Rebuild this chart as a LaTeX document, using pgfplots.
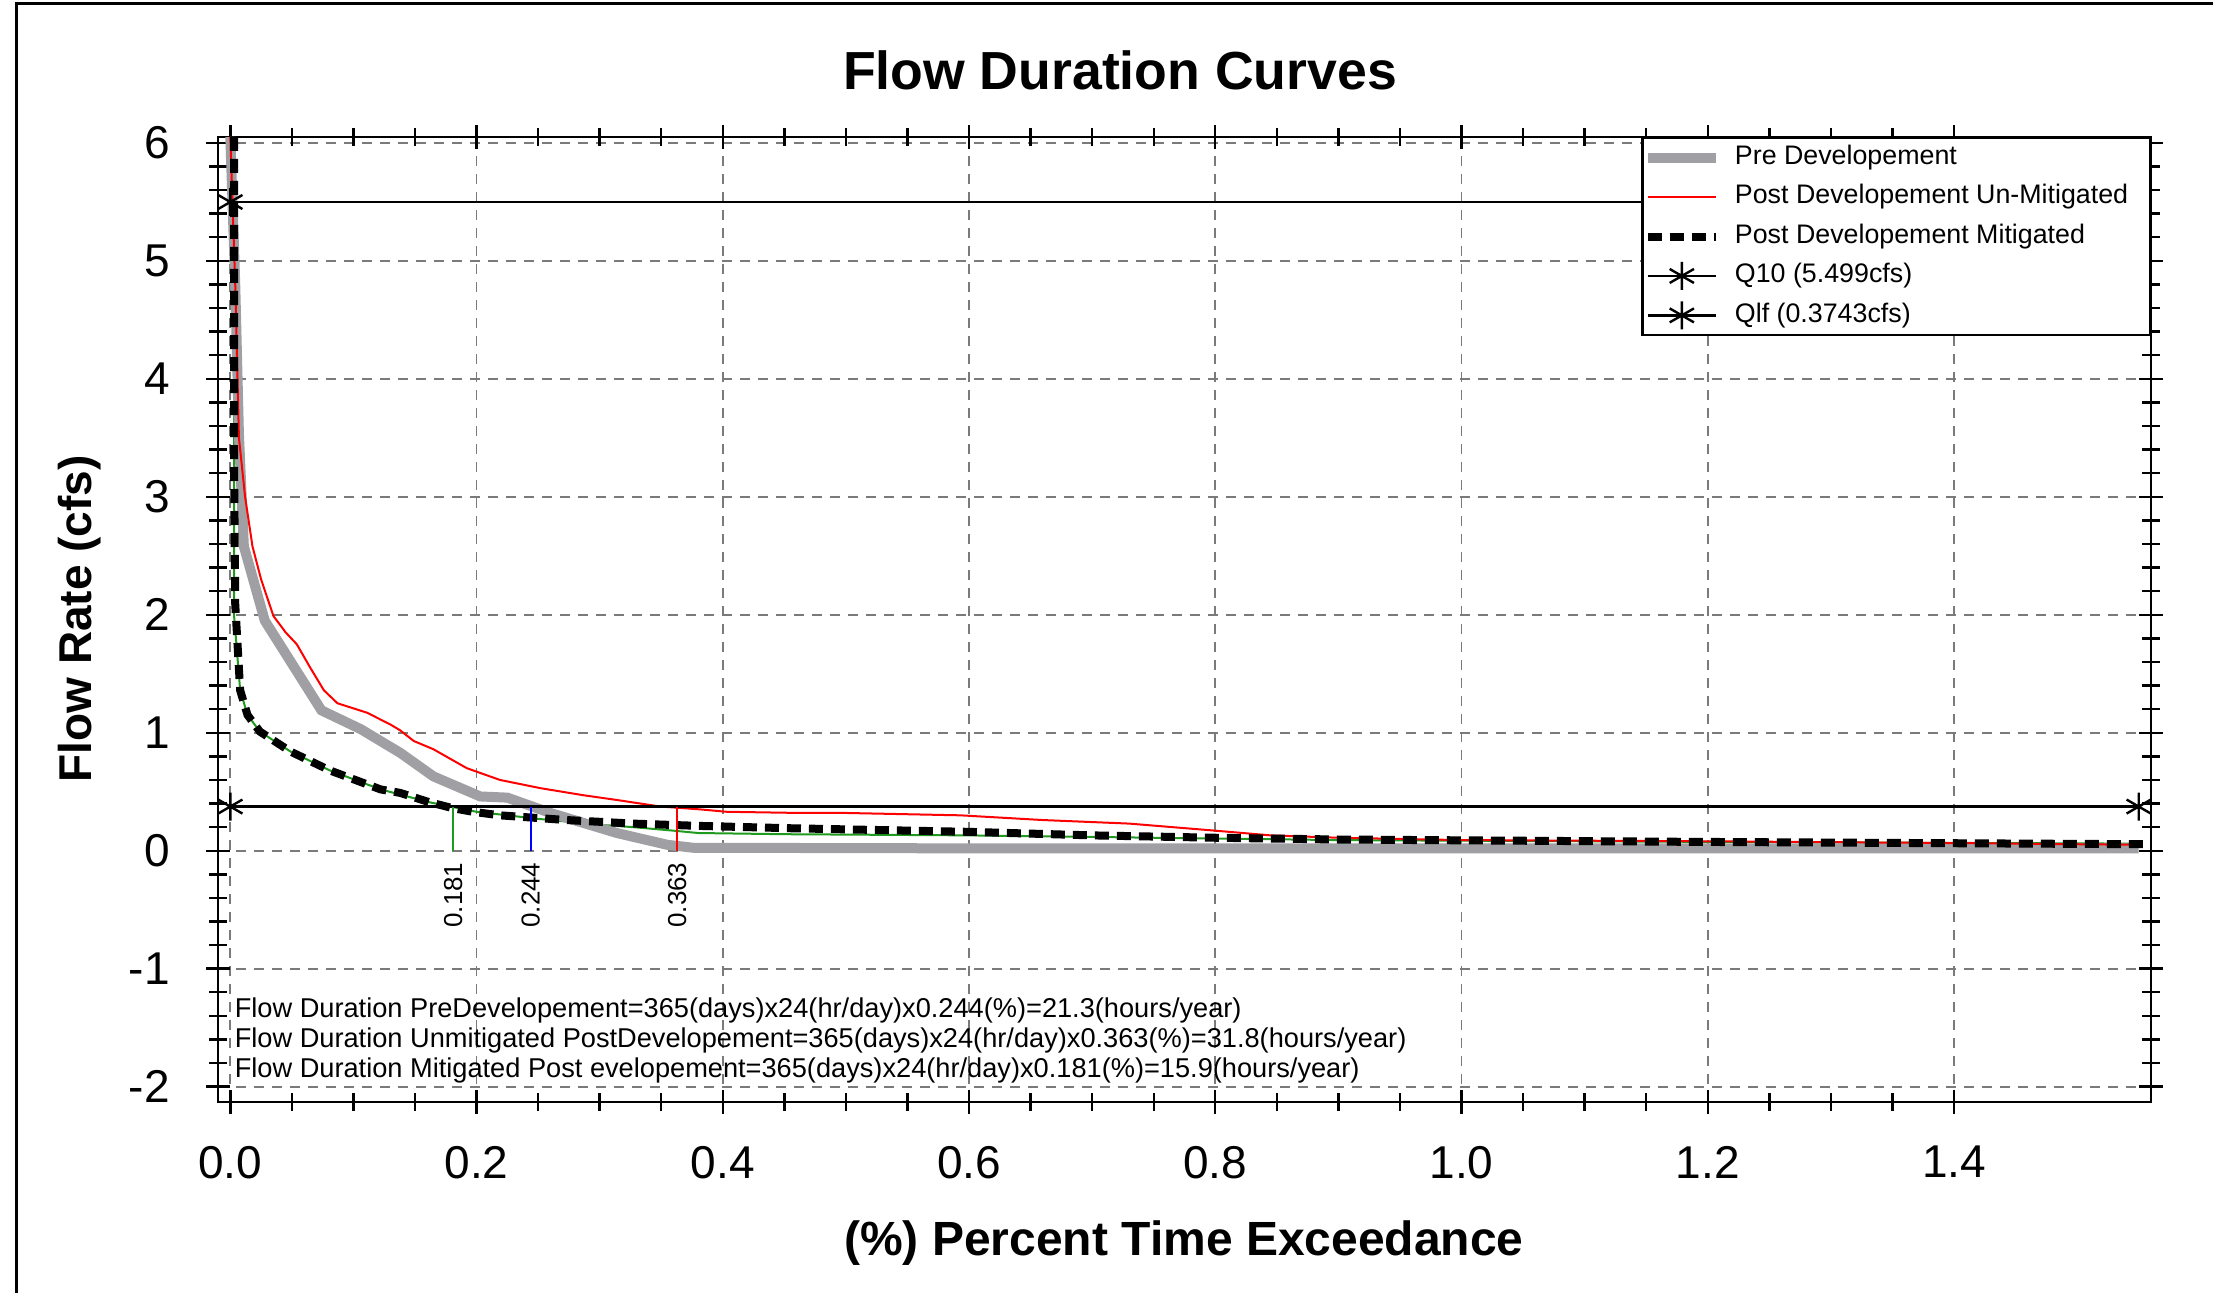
\documentclass[border=0pt]{standalone}
\usepackage{fontspec}
\setmainfont{Liberation Sans}
\usepackage{pgfplots}
\pgfplotsset{compat=1.18}

\definecolor{predev}{HTML}{A0A0A4}
\definecolor{gridgray}{HTML}{7A7A7A}
\definecolor{mitgreen}{HTML}{1E9A1E}

\begin{document}
\begin{tikzpicture}
\useasboundingbox (0pt,0pt) rectangle (553.25pt,-323.25pt);
\draw[line width=0.7pt] (4.2pt,-323.25pt) -- (4.2pt,-0.9pt) -- (553.25pt,-0.9pt);
\begin{axis}[
  at={(54.5pt,-34.25pt)}, anchor=north west,
  scale only axis, width=483.25pt, height=241.25pt,
  xmin=-0.01, xmax=1.56, ymin=-2.13, ymax=6.05,
  xtick={0,0.2,0.4,0.6,0.8,1.0,1.2,1.4},
  ytick={-2,-1,0,1,2,3,4,5,6},
  minor x tick num=3, minor y tick num=4,
  xtick pos=both, ytick pos=both,
  xticklabel pos=lower, yticklabel pos=left,
  tick align=center, major tick length=6pt, minor tick length=4.5pt,
  every tick/.style={black, line width=0.6pt},
  axis line style={line width=0.7pt},
  /pgf/number format/assume math mode=true,
  tick label style={font=\fontsize{11.5}{13}\selectfont},
  xticklabel style={yshift=-4.5pt, /pgf/number format/.cd, fixed, fixed zerofill, precision=1},
  yticklabel style={xshift=-5.5pt},
  grid=major,
  major grid style={gridgray, dash pattern=on 2.5pt off 2pt, line width=0.45pt},
  legend style={at={(1,1)}, anchor=north east, draw=black, line width=0.6pt,
    fill=white, font=\fontsize{6.7}{7.5}\selectfont, row sep=1.1pt,
    inner xsep=0pt, inner ysep=0.5pt,
    nodes={inner xsep=1.8pt, inner ysep=1.2pt},
    /tikz/every odd column/.append style={column sep=1.7pt}},
  legend cell align=left,
]
% thin green underlying mitigated curve
\addplot[mitgreen, line width=0.5pt, forget plot] coordinates {
  (0.003,6.05)(0.003,2.0)(0.008,1.36)(0.014,1.15)(0.024,1.01)(0.049,0.84)
  (0.081,0.68)(0.122,0.52)(0.162,0.41)(0.2,0.33)(0.25,0.27)(0.3,0.22)
  (0.327,0.20)(0.36,0.17)(0.38,0.15)(0.45,0.14)(0.6,0.13)(0.9,0.09)
  (1.2,0.075)(1.55,0.06)
};
% Pre Developement
\addplot[predev, line width=2.5pt] coordinates {
  (0.000,6.05)(0.004,4.8)(0.007,3.53)(0.011,2.58)(0.028,1.95)(0.074,1.19)
  (0.106,1.03)(0.138,0.83)(0.165,0.63)(0.203,0.46)(0.225,0.45)(0.26,0.32)
  (0.314,0.15)(0.355,0.05)(0.376,0.025)(0.6,0.02)(1.0,0.02)(1.55,0.02)
};
\addlegendentry{Pre Developement}
% Post Developement Un-Mitigated
\addplot[red, line width=0.5pt] coordinates {
  (0.000,6.05)(0.004,4.8)(0.007,3.5)(0.012,3.0)(0.018,2.58)(0.025,2.3)
  (0.035,1.99)(0.045,1.85)(0.054,1.75)(0.065,1.55)(0.076,1.36)(0.087,1.25)
  (0.111,1.17)(0.13,1.07)(0.138,1.02)(0.149,0.93)(0.165,0.86)(0.192,0.70)
  (0.219,0.60)(0.252,0.53)(0.287,0.47)(0.314,0.43)(0.349,0.375)(0.382,0.35)
  (0.403,0.33)(0.463,0.32)(0.50,0.32)(0.593,0.30)(0.66,0.26)(0.73,0.23)
  (0.80,0.17)(0.845,0.13)(0.90,0.11)(1.0,0.09)(1.2,0.08)(1.4,0.065)(1.55,0.05)
};
\addlegendentry{\hbox{Post Developement Un-Mitigated\kern3.6pt}}
% Post Developement Mitigated
\addplot[black, line width=2pt, dash pattern=on 3.5pt off 2pt] coordinates {
  (0.003,6.05)(0.003,4.5)(0.003,3.3)(0.004,2.09)(0.008,1.36)(0.014,1.15)
  (0.024,1.01)(0.049,0.84)(0.081,0.68)(0.122,0.52)(0.138,0.49)(0.162,0.41)
  (0.181,0.36)(0.197,0.33)(0.219,0.30)(0.273,0.26)(0.327,0.23)(0.382,0.21)
  (0.457,0.19)(0.6,0.16)(0.7,0.13)(0.8,0.11)(0.9,0.095)(1.19,0.075)(1.555,0.055)
};
\addlegendentry{Post Developement Mitigated}
% thresholds
\addplot[black, line width=0.6pt, mark=asterisk, mark size=3.5pt,
  mark options={solid, line width=0.6pt}] coordinates {(0,5.499)(1.55,5.499)};
\addlegendentry{Q10 (5.499cfs)}
\addplot[black, line width=0.6pt, mark=asterisk, mark size=3.5pt,
  mark options={solid, line width=0.6pt}] coordinates {(0,0.3743)(1.55,0.3743)};
\addlegendentry{Qlf (0.3743cfs)}
% exceedance markers
\addplot[mitgreen, line width=0.6pt, forget plot] coordinates {(0.181,0)(0.181,0.3743)};
\addplot[blue, line width=0.6pt, forget plot] coordinates {(0.244,0)(0.244,0.3743)};
\addplot[red, line width=0.6pt, forget plot] coordinates {(0.363,0)(0.363,0.3743)};
\node[rotate=90, anchor=east, inner sep=1pt, font=\fontsize{6.5}{7.5}\selectfont] at (axis cs:0.181,-0.06) {0.181};
\node[rotate=90, anchor=east, inner sep=1pt, font=\fontsize{6.5}{7.5}\selectfont] at (axis cs:0.244,-0.06) {0.244};
\node[rotate=90, anchor=east, inner sep=1pt, font=\fontsize{6.5}{7.5}\selectfont] at (axis cs:0.363,-0.06) {0.363};
% duration notes
\node[anchor=west, inner sep=0pt, font=\fontsize{6.8}{7.5}\selectfont] at (axis cs:0.003,-1.35)
  {Flow Duration PreDevelopement=365(days)x24(hr/day)x0.244(\%)=21.3(hours/year)};
\node[anchor=west, inner sep=0pt, font=\fontsize{6.8}{7.5}\selectfont] at (axis cs:0.003,-1.61)
  {Flow Duration Unmitigated PostDevelopement=365(days)x24(hr/day)x0.363(\%)=31.8(hours/year)};
\node[anchor=west, inner sep=0pt, font=\fontsize{6.8}{7.5}\selectfont] at (axis cs:0.003,-1.86)
  {Flow Duration Mitigated Post evelopement=365(days)x24(hr/day)x0.181(\%)=15.9(hours/year)};
\end{axis}
\node[font=\bfseries\fontsize{13.4}{16}\selectfont] at (280pt,-17.6pt) {Flow Duration Curves};
\node[font=\bfseries\fontsize{12}{14}\selectfont] at (296pt,-310.7pt) {(\%) Percent Time Exceedance};
\node[rotate=90, font=\bfseries\fontsize{11.5}{14}\selectfont] at (20pt,-154.7pt) {Flow Rate (cfs)};
\end{tikzpicture}
\end{document}
